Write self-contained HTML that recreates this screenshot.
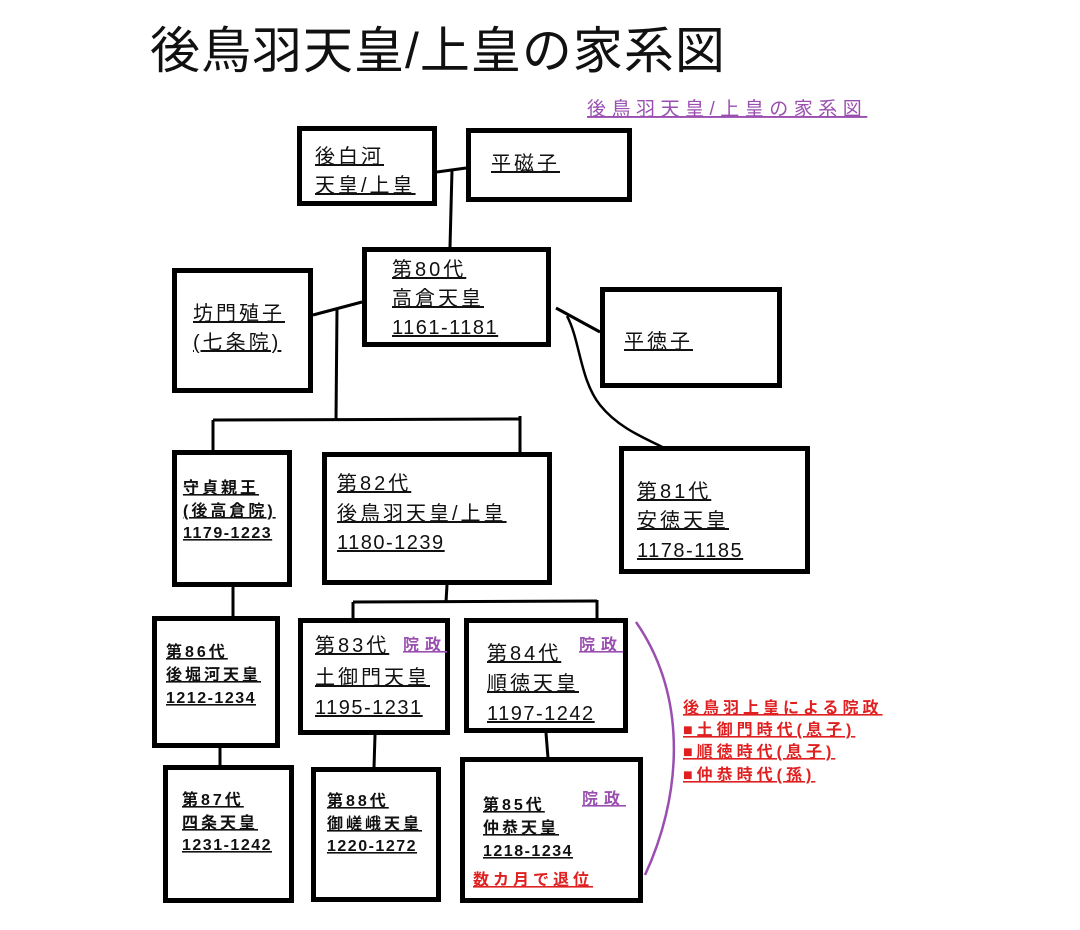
<!DOCTYPE html>
<html><head><meta charset="utf-8"><style>
body{margin:0;background:#fff;}
svg{display:block}
text{font-family:"Liberation Sans","Noto Sans CJK JP",sans-serif;text-decoration:underline;fill:#111}
.t{text-decoration:none;font-size:50px;letter-spacing:1px}
.p{fill:#9a4fb0;font-weight:bold;letter-spacing:6px}
.r{fill:#e02020;font-weight:bold;letter-spacing:4px}
.big text{letter-spacing:3px}
.big text.n{letter-spacing:1.5px}
.sm text{letter-spacing:3px}
.sm text.n{letter-spacing:1.5px}
</style></head><body>
<svg width="1080" height="930" viewBox="0 0 1080 930">
<text class="t" x="150" y="68">後鳥羽天皇/上皇の家系図</text>
<text x="587" y="115" font-size="19" style="fill:#9a4fb0;letter-spacing:5.5px">後鳥羽天皇/上皇の家系図</text>
<g fill="none" stroke="#000" stroke-width="5">
<rect x="299.5" y="128.5" width="135" height="75"/>
<rect x="468.5" y="130.5" width="161" height="69"/>
<rect x="364.5" y="249.5" width="184" height="95"/>
<rect x="174.5" y="270.5" width="136" height="120"/>
<rect x="602.5" y="289.5" width="177" height="96"/>
<rect x="174.5" y="452.5" width="115" height="132"/>
<rect x="324.5" y="454.5" width="225" height="128"/>
<rect x="621.5" y="448.5" width="186" height="123"/>
<rect x="154.5" y="618.5" width="123" height="127"/>
<rect x="300.5" y="620.5" width="147" height="112"/>
<rect x="466.5" y="620.5" width="159" height="110"/>
<rect x="165.5" y="767.5" width="126" height="133"/>
<rect x="313.5" y="769.5" width="125" height="130"/>
<rect x="462.5" y="759.5" width="178" height="141"/>
</g>
<g fill="none" stroke="#000" stroke-width="3">
<path d="M437 172 L466 168"/>
<path d="M452 170 L450 247"/>
<path d="M313 315 L362 302"/>
<path d="M337 309 L336 420"/>
<path d="M213 420 L520 419"/>
<path d="M213 420 L213 451"/>
<path d="M520 416 L520 453"/>
<path d="M556 308 L600 332"/>
<path d="M567 316 C580 340 580 380 600 405 C620 430 650 440 666 449" stroke-width="2.5"/>
<path d="M447 585 L446 602"/>
<path d="M353 602 L597 601"/>
<path d="M353 602 L353 619"/>
<path d="M597 600 L597 619"/>
<path d="M233 587 L233 617"/>
<path d="M220 748 L220 767"/>
<path d="M375 735 L374 768"/>
<path d="M546 733 L548 758"/>
</g>
<path d="M636 622 C690 700 680 800 645 875" fill="none" stroke="#9a4fb0" stroke-width="2.5"/>
<g font-size="20" class="big">
<text x="315" y="163">後白河</text><text x="315" y="192">天皇/上皇</text>
<text x="491" y="170">平磁子</text>
<text x="392" y="276">第80代</text><text x="392" y="305">高倉天皇</text><text class="n" x="392" y="334">1161-1181</text>
<text x="193" y="320">坊門殖子</text><text x="193" y="349">(七条院)</text>
<text x="624" y="348">平徳子</text>
<text x="337" y="490">第82代</text><text x="337" y="520">後鳥羽天皇/上皇</text><text class="n" x="337" y="549">1180-1239</text>
<text x="637" y="498">第81代</text><text x="637" y="527">安徳天皇</text><text class="n" x="637" y="557">1178-1185</text>
<text x="315" y="652">第83代</text><text x="315" y="684">土御門天皇</text><text class="n" x="315" y="714">1195-1231</text>
<text x="487" y="660">第84代</text><text x="487" y="690">順徳天皇</text><text class="n" x="487" y="720">1197-1242</text>
</g>
<g font-size="16" font-weight="bold" class="sm">
<text x="183" y="493">守貞親王</text><text x="183" y="516">(後高倉院)</text><text class="n" x="183" y="538">1179-1223</text>
<text x="166" y="657">第86代</text><text x="166" y="680">後堀河天皇</text><text class="n" x="166" y="703">1212-1234</text>
<text x="182" y="805">第87代</text><text x="182" y="828">四条天皇</text><text class="n" x="182" y="850">1231-1242</text>
<text x="327" y="806">第88代</text><text x="327" y="829">御嵯峨天皇</text><text class="n" x="327" y="851">1220-1272</text>
<text x="483" y="810">第85代</text><text x="483" y="833">仲恭天皇</text><text class="n" x="483" y="856">1218-1234</text>
</g>
<g font-size="16">
<text class="p" x="403" y="650">院政</text>
<text class="p" x="579" y="650">院政</text>
<text class="p" x="582" y="804">院政</text>
<text class="r" x="473" y="885">数カ月で退位</text>
<text class="r" x="683" y="713">後鳥羽上皇による院政</text>
<text class="r" x="683" y="735">■土御門時代(息子)</text>
<text class="r" x="683" y="757">■順徳時代(息子)</text>
<text class="r" x="683" y="780">■仲恭時代(孫)</text>
</g>
</svg>
</body></html>
